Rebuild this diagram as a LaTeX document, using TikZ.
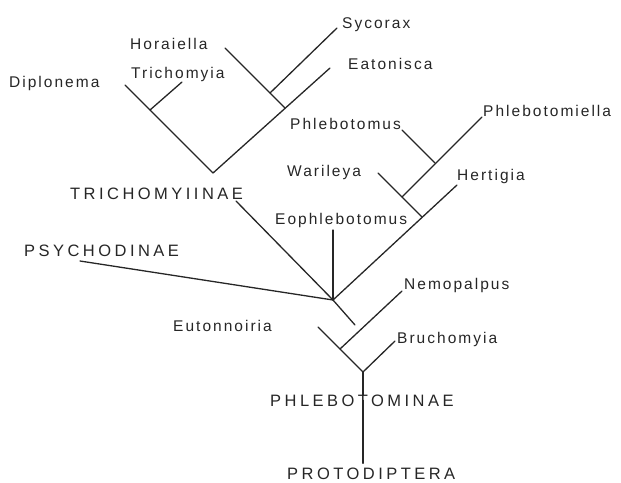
\documentclass[tikz,border=0pt]{standalone}
\usepackage{fontspec}
\newfontfamily\taxonfam[LetterSpace=13]{Liberation Sans}
\newfontfamily\groupfam[LetterSpace=21]{Liberation Sans}
\usetikzlibrary{positioning}

\begin{document}
\begin{tikzpicture}[
  x=1pt,y=-1pt,
  taxon/.style={anchor=base west,inner sep=0pt,text=black!85,font=\taxonfam\fontsize{15.5}{18}\selectfont},
  group/.style={anchor=base west,inner sep=0pt,text=black!85,font=\groupfam\fontsize{16.5}{19}\selectfont},
  branch/.style={line width=1.3pt,draw=black!85,line cap=round}
]
  \useasboundingbox (0,0) rectangle (621,482);

  % branch points and free ends
  \coordinate (root) at (363,372);
  \coordinate (bru) at (395,341);
  \coordinate (eut) at (318,327);
  \coordinate (nem0) at (340,349);
  \coordinate (nem) at (402,291);
  \coordinate (hub) at (333,300);
  \coordinate (stub) at (355,325);
  \coordinate (psy) at (80,261);
  \coordinate (tri0) at (236,201);
  \coordinate (trinode) at (213,173);
  \coordinate (eoph) at (333,230);
  \coordinate (her) at (457,185);
  \coordinate (war0) at (422,217);
  \coordinate (war) at (378,173);
  \coordinate (phl0) at (402,197);
  \coordinate (phm) at (482,117);
  \coordinate (phb0) at (435,163);
  \coordinate (phb) at (402,130);
  \coordinate (dip) at (125,85);
  \coordinate (tcy0) at (150,110);
  \coordinate (tcy) at (182,82);
  \coordinate (eat) at (330,68);
  \coordinate (hor0) at (285,108);
  \coordinate (hor) at (225,48);
  \coordinate (syc0) at (270,93);
  \coordinate (syc) at (337,28);

  % labels
  \node[taxon] (sycorax) at (342,28) {Sycorax};
  \node[taxon] (eatonisca) at (348,69) {Eatonisca};
  \node[taxon] (horaiella) at (130,49) {Horaiella};
  \node[taxon] (trichomyia) at (131,78) {Trichomyia};
  \node[taxon] (diplonema) at (9,87) {Diplonema};
  \node[taxon] (phlebotomus) at (290,129) {Phlebotomus};
  \node[taxon] (phlebotomiella) at (483,116) {Phlebotomiella};
  \node[taxon] (warileya) at (287,176) {Warileya};
  \node[taxon] (hertigia) at (457,180) {Hertigia};
  \node[group] (trichomyiinae) at (70,199) {TRICHOMYIINAE};
  \node[taxon] (eophlebotomus) at (275,224) {Eophlebotomus};
  \node[group] (psychodinae) at (24,256) {PSYCHODINAE};
  \node[taxon] (nemopalpus) at (404,289) {Nemopalpus};
  \node[taxon] (eutonnoiria) at (173,331) {Eutonnoiria};
  \node[taxon] (bruchomyia) at (397,343) {Bruchomyia};
  \node[group] (phlebotominae) at (270,406) {PHLEBOTOMINAE};
  \node[group] (protodiptera) at (287,479) {PROTODIPTERA};

  % tree
  \draw[branch] (root |- protodiptera.north) ++(0,-4) -- ([yshift=6pt]root |- phlebotominae.south);
  \draw[branch] ([yshift=-1pt]root |- phlebotominae.north) -- (root);
  \draw[branch] (root) -- (bru);
  \draw[branch] (root) -- (eut);
  \draw[branch] (nem0) -- (nem);
  \draw[branch] (hub) -- (stub);
  \draw[branch] (hub) -- (psy);
  \draw[branch] (hub) -- (eoph);
  \draw[branch] (hub) -- (her);
  \draw[branch] (war0) -- (war);
  \draw[branch] (phl0) -- (phm);
  \draw[branch] (phb0) -- (phb);
  \draw[branch] (hub) -- (tri0);
  \draw[branch] (trinode) -- (dip);
  \draw[branch] (tcy0) -- (tcy);
  \draw[branch] (trinode) -- (eat);
  \draw[branch] (hor0) -- (hor);
  \draw[branch] (syc0) -- (syc);
\end{tikzpicture}
\end{document}
